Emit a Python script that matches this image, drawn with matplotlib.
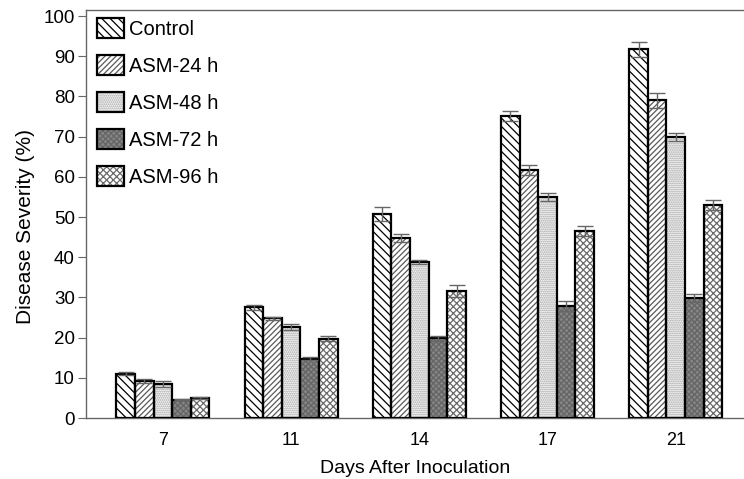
import numpy as np
import matplotlib
matplotlib.use("Agg")
from matplotlib import pyplot as plt
from matplotlib.patches import Patch

plt.rcParams["font.family"] = ["Liberation Sans", "DejaVu Sans"]
plt.rcParams["hatch.linewidth"] = 0.9

days = ["7", "11", "14", "17", "21"]
groups = ["Control", "ASM-24 h", "ASM-48 h", "ASM-72 h", "ASM-96 h"]

control = [11.0, 27.5, 50.7, 75.2, 91.7]
asm24 = [9.2, 24.8, 44.8, 61.7, 79.0]
asm48 = [8.5, 22.7, 38.8, 55.0, 69.8]
asm72 = [4.6, 14.8, 19.8, 27.8, 29.8]
asm96 = [5.0, 19.7, 31.6, 46.5, 53.0]

err_control = [0.4, 0.7, 1.8, 1.3, 1.8]
err_asm24 = [0.4, 0.4, 1.0, 1.3, 1.8]
err_asm48 = [0.7, 0.8, 0.6, 0.9, 1.0]
err_asm72 = [0.2, 0.3, 0.7, 1.2, 1.0]
err_asm96 = [0.3, 0.6, 1.4, 1.2, 1.3]

values = [control, asm24, asm48, asm72, asm96]
errors = [err_control, err_asm24, err_asm48, err_asm72, err_asm96]

# (facecolor, hatch, hatch colour)
styles = [
    ("white", "\\\\\\\\", "black"),
    ("white", "//////", "#5a5a5a"),
    ("white", "........", "#9a9a9a"),
    ("#858585", "xxxxxx", "#656565"),
    ("white", "xxxxx", "#6a6a6a"),
]

fig = plt.figure(figsize=(7.44, 4.79), dpi=100)
ax = fig.add_axes([0.1156, 0.1273, 0.884, 0.8517])
ax.patch.set_edgecolor("none")

x = np.arange(len(days))
w = 0.145
handles = []
for i in range(len(groups)):
    fc, hatch, hc = styles[i]
    pos = x + (i - 2) * w
    ax.bar(pos, values[i], w, color=fc, hatch=hatch, edgecolor=hc, linewidth=0, zorder=2)
    ax.bar(pos, values[i], w, color="none", edgecolor="black", linewidth=1.6, zorder=3)
    ax.errorbar(pos, values[i], yerr=errors[i], fmt="none", ecolor="#666666",
                elinewidth=1, capsize=6, capthick=1, zorder=4)
    h1 = Patch(facecolor=fc, hatch=hatch, edgecolor=hc, linewidth=0)
    h2 = Patch(facecolor="none", edgecolor="black", linewidth=1.6)
    handles.append((h1, h2))

ax.set_xlim(-0.60, 4.53)
ax.set_ylim(0, 101.5)
ax.set_xticks(x)
ax.set_xticklabels(days)
ax.set_yticks(range(0, 101, 10))
ax.tick_params(axis="x", length=0, pad=10, labelsize=13)
ax.tick_params(axis="y", length=6, color="#666666", labelsize=13.5, pad=2)

for s in ["left", "bottom", "top"]:
    ax.spines[s].set_color("#666666")
    ax.spines[s].set_linewidth(1)
ax.spines["right"].set_visible(False)

ax.set_xlabel("Days After Inoculation", fontsize=14, labelpad=8)
ax.set_ylabel("Disease Severity (%)", fontsize=15)
ax.yaxis.set_label_coords(-0.078, 0.47)

ax.legend(handles, groups, loc="upper left", bbox_to_anchor=(0.017, 0.98),
          frameon=False, fontsize=14.5, borderaxespad=0, borderpad=0,
          handlelength=1.35, handleheight=1.15, handletextpad=0.25, labelspacing=0.8)

plt.savefig("out.png")
